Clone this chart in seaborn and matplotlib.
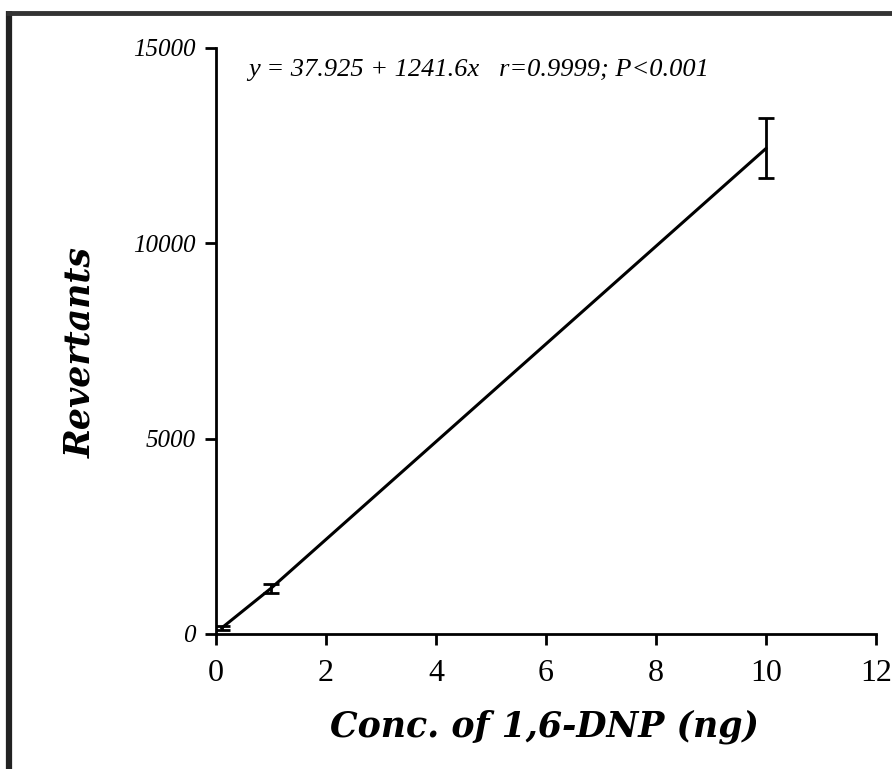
import matplotlib
matplotlib.use("Agg")
import matplotlib.pyplot as plt
import seaborn as sns
import pandas as pd
from matplotlib.lines import Line2D

# values
conc = [0.1, 1.0, 10.0]
revertants = [150, 1170, 12430]
sem = [50, 120, 770]
x_ticks = [0, 2, 4, 6, 8, 10, 12]
y_ticks = [0, 5000, 10000, 15000]

df = pd.DataFrame({"conc": conc, "rev": revertants, "sem": sem})

sns.set_style("ticks")
plt.rcParams['font.family'] = ['Liberation Serif', 'DejaVu Serif']
plt.rcParams['text.color'] = 'black'
plt.rcParams['xtick.color'] = 'black'
plt.rcParams['ytick.color'] = 'black'
plt.rcParams['axes.labelcolor'] = 'black'

fig = plt.figure(figsize=(8.92, 7.69), dpi=100)
ax = fig.add_axes([0.2422, 0.1756, 0.740, 0.762])

sns.lineplot(x="conc", y="rev", data=df, ax=ax, color="black", lw=2.2)
ax.errorbar(df["conc"], df["rev"], yerr=df["sem"], fmt="none", ecolor="black",
            elinewidth=2, capsize=6, capthick=2)

ax.set_xlim(0, 12)
ax.set_ylim(0, 15000)
ax.set_xticks(x_ticks)
ax.set_yticks(y_ticks)
ax.set_xticklabels([str(t) for t in x_ticks], fontsize=23)
ax.set_yticklabels([str(t) for t in y_ticks], fontsize=18, style="italic")
ax.tick_params(axis="x", direction="out", length=8, width=2, pad=10)
ax.tick_params(axis="y", direction="out", length=8, width=2, pad=7)
sns.despine(ax=ax)
for s in ["left", "bottom"]:
    ax.spines[s].set_linewidth(2)
    ax.spines[s].set_color("black")

ax.set_xlabel("Conc. of 1,6-DNP (ng)", fontsize=25, style="italic",
              fontweight="bold", family="DejaVu Serif")
ax.xaxis.set_label_coords(0.498, -0.159)
ax.xaxis.label.set_va("center")
ax.set_ylabel("Revertants", fontsize=25, style="italic", fontweight="bold",
              family="DejaVu Serif")
ax.yaxis.set_label_coords(-0.206, 0.481)
ax.yaxis.label.set_va("center")

ax.text(0.58, 14437, "y = 37.925 + 1241.6x   r=0.9999; P<0.001",
        fontsize=19, style="italic", va="center")

# scanned page frame on left and top
fig.add_artist(Line2D([0.0101, 0.0101], [0, 0.9857], transform=fig.transFigure,
                      color="#222222", lw=4.5, solid_capstyle="butt"))
fig.add_artist(Line2D([0.0067, 1.0], [0.983, 0.983], transform=fig.transFigure,
                      color="#333333", lw=3.5, solid_capstyle="butt"))

fig.savefig("out.png", dpi=100)
